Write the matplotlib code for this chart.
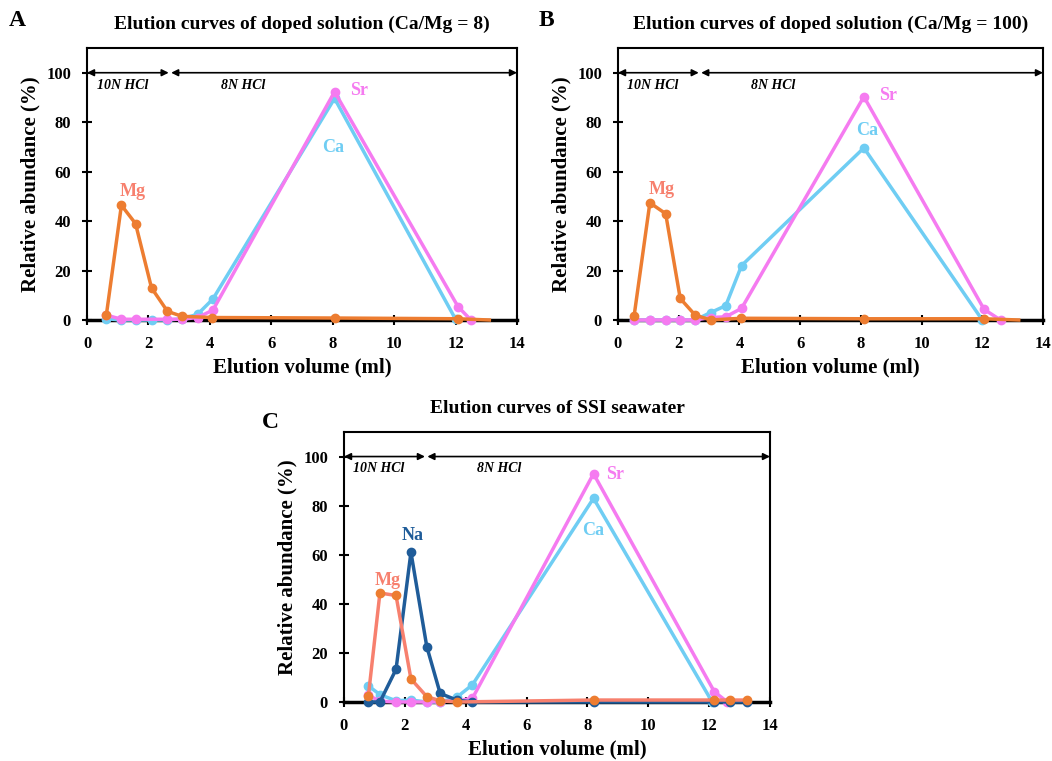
"""Elution curves of doped solutions and SSI seawater (three panels)."""

import matplotlib

matplotlib.use("Agg")
import matplotlib.pyplot as plt

plt.rcParams["font.family"] = ["Liberation Serif", "DejaVu Serif"]
plt.rcParams["font.weight"] = "bold"

# Panel A: doped solution, Ca/Mg = 8
a_mg_x = [0.63, 1.12, 1.58, 2.1, 2.62, 3.09, 4.07, 8.06, 12.08, 13.1]
a_mg_y = [2.0, 46.4, 39.0, 13.0, 3.5, 1.5, 1.0, 0.8, 0.5, 0.0]
a_sr_x = [0.63, 1.12, 1.58, 2.62, 3.09, 3.6, 4.1, 8.06, 12.08, 12.5]
a_sr_y = [2.0, 0.3, 0.3, 0.3, 0.3, 1.0, 4.0, 92.3, 5.4, 0.0]
a_ca_x = [0.63, 1.12, 1.58, 2.1, 2.62, 3.09, 3.6, 4.1, 8.06, 12.0]
a_ca_y = [0.5, 0.0, 0.0, 0.0, 0.0, 0.5, 2.3, 8.5, 89.6, 0.3]

# Panel B: doped solution, Ca/Mg = 100
b_mg_x = [0.53, 1.05, 1.57, 2.05, 2.54, 3.05, 4.05, 8.1, 12.06, 13.2]
b_mg_y = [1.6, 47.4, 43.0, 8.7, 2.0, 0.0, 0.7, 0.5, 0.5, 0.0]
b_sr_x = [0.53, 1.05, 1.57, 2.05, 2.54, 3.05, 3.55, 4.07, 8.1, 12.06, 12.6]
b_sr_y = [0.0, 0.0, 0.0, 0.0, 0.0, 1.0, 1.3, 4.7, 90.3, 4.3, 0.0]
b_ca_x = [0.53, 1.05, 1.57, 2.05, 2.54, 3.05, 3.55, 4.07, 8.1, 12.0]
b_ca_y = [0.0, 0.0, 0.0, 0.0, 0.0, 3.0, 5.8, 22.0, 69.6, 0.0]

# Panel C: SSI seawater
c_na_x = [0.8, 1.18, 1.71, 2.2, 2.72, 3.16, 3.7, 4.22, 8.2, 12.17, 12.7, 13.25]
c_na_y = [0.0, 0.0, 13.3, 61.0, 22.6, 3.5, 0.8, 0.0, 0.0, 0.0, 0.0, 0.0]
c_mg_x = [0.8, 1.18, 1.71, 2.2, 2.72, 3.16, 3.7, 8.2, 12.17, 12.7, 13.25]
c_mg_y = [2.4, 44.4, 43.4, 9.4, 2.2, 0.5, 0.0, 0.8, 0.8, 0.8, 0.8]
c_sr_x = [0.8, 1.18, 1.71, 2.2, 2.72, 3.16, 3.7, 4.22, 8.2, 12.17, 12.6]
c_sr_y = [2.8, 0.3, 0.0, 0.0, 0.0, 0.2, 0.5, 1.5, 93.0, 4.2, 0.0]
c_ca_x = [0.8, 1.18, 1.71, 2.2, 2.72, 3.16, 3.7, 4.22, 8.2, 12.1]
c_ca_y = [6.6, 3.0, 0.5, 0.8, 0.0, 0.0, 1.9, 7.0, 83.0, 0.0]

MG = "#ED7D31"
MG_LABEL = "#F7806E"
SR = "#F57BF0"
CA = "#6FCDF3"
NA = "#1F5C99"


def _style_axes(ax, title, letter, letter_xy):
    ax.set_xlim(0, 14)
    ax.set_ylim(0, 110)
    ax.set_xticks(range(0, 15, 2))
    ax.set_yticks(range(0, 101, 20))
    ax.tick_params(direction="inout", length=7, width=1.5, labelsize=12, pad=8)
    for spine in ax.spines.values():
        spine.set_linewidth(1.5)
    ax.spines["bottom"].set_linewidth(2.5)
    ax.set_xlabel("Elution volume (ml)", fontsize=15, fontweight="bold", labelpad=4)
    ax.set_ylabel("Relative abundance (%)", fontsize=15, fontweight="bold")
    ax.set_title(title, fontsize=14, fontweight="bold", pad=14)
    ax.figure.text(*letter_xy, letter, fontsize=17, fontweight="bold")

    arrow = dict(arrowstyle="<|-|>", color="black", lw=1.2, mutation_scale=10,
                 shrinkA=0, shrinkB=0)
    ax.annotate("", xy=(0, 100), xytext=(2.66, 100), arrowprops=arrow)
    ax.annotate("", xy=(2.74, 100), xytext=(14, 100), arrowprops=arrow)
    ax.text(1.15, 93.5, "10N HCl", fontsize=10, fontstyle="italic",
            fontweight="bold", ha="center")
    ax.text(5.1, 93.5, "8N HCl", fontsize=10, fontstyle="italic",
            fontweight="bold", ha="center")


def _series(ax, x, y, line_color, marker_color=None, skip_last=False):
    marks = list(range(len(x) - 1)) if skip_last else None
    ax.plot(x, y, color=line_color, lw=2.5, marker="o", ms=6, markevery=marks,
            mfc=marker_color or line_color, mec=marker_color or line_color,
            clip_on=False, zorder=3)


fig = plt.figure(figsize=(10.52, 7.61), dpi=100)

ax_a = fig.add_axes([87 / 1052, 1 - 320 / 761, 430 / 1052, 272 / 761])
_series(ax_a, a_ca_x, a_ca_y, CA)
_series(ax_a, a_sr_x, a_sr_y, SR)
_series(ax_a, a_mg_x, a_mg_y, MG, skip_last=True)
ax_a.text(1.5, 50, "Mg", color=MG_LABEL, fontsize=13, fontweight="bold", ha="center")
ax_a.text(8.55, 91, "Sr", color=SR, fontsize=13, fontweight="bold")
ax_a.text(8.0, 68, "Ca", color=CA, fontsize=13, fontweight="bold", ha="center")
_style_axes(ax_a, "Elution curves of doped solution (Ca/Mg = 8)", "A", (9 / 1052, 1 - 26 / 761))

ax_b = fig.add_axes([618 / 1052, 1 - 320 / 761, 425 / 1052, 272 / 761])
_series(ax_b, b_ca_x, b_ca_y, CA)
_series(ax_b, b_sr_x, b_sr_y, SR)
_series(ax_b, b_mg_x, b_mg_y, MG, skip_last=True)
ax_b.text(1.45, 51, "Mg", color=MG_LABEL, fontsize=13, fontweight="bold", ha="center")
ax_b.text(8.6, 89, "Sr", color=SR, fontsize=13, fontweight="bold")
ax_b.text(8.2, 75, "Ca", color=CA, fontsize=13, fontweight="bold", ha="center")
_style_axes(ax_b, "Elution curves of doped solution (Ca/Mg = 100)", "B", (539 / 1052, 1 - 26 / 761))

ax_c = fig.add_axes([344 / 1052, 1 - 702 / 761, 426 / 1052, 270 / 761])
_series(ax_c, c_ca_x, c_ca_y, CA)
_series(ax_c, c_sr_x, c_sr_y, SR)
_series(ax_c, c_na_x, c_na_y, NA)
_series(ax_c, c_mg_x, c_mg_y, MG_LABEL, MG)
ax_c.text(1.45, 47.5, "Mg", color=MG_LABEL, fontsize=13, fontweight="bold", ha="center")
ax_c.text(2.25, 66, "Na", color=NA, fontsize=13, fontweight="bold", ha="center")
ax_c.text(8.6, 91, "Sr", color=SR, fontsize=13, fontweight="bold")
ax_c.text(8.2, 68, "Ca", color=CA, fontsize=13, fontweight="bold", ha="center")
_style_axes(ax_c, "Elution curves of SSI seawater", "C", (262 / 1052, 1 - 428 / 761))

fig.savefig("out.png", dpi=100)
